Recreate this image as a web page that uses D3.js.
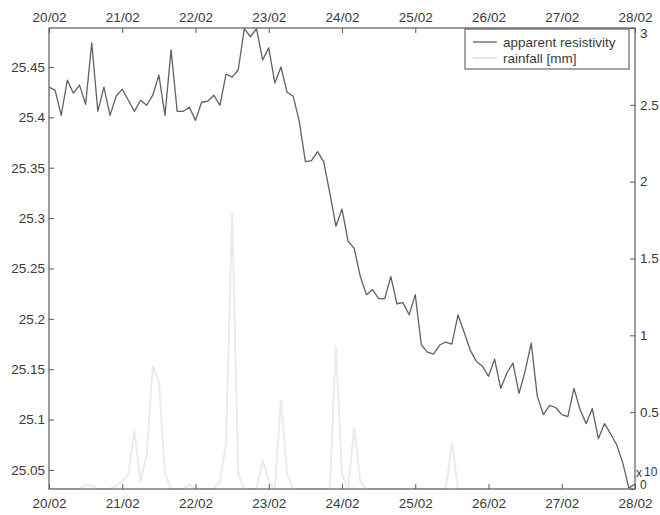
<!DOCTYPE html>
<html>
<head>
<meta charset="utf-8">
<script src="https://cdn.jsdelivr.net/npm/d3@7"></script>
<style>
  html, body { margin: 0; padding: 0; background: #ffffff; }
  svg { display: block; }
  text { font-family: "Liberation Sans", Arial, sans-serif; fill: #3a3a3a; }
</style>
</head>
<body>
<svg id="chart" width="660" height="515"></svg>
<script>
// ---------------- DATA ----------------
const startDate = new Date(2007, 1, 20, 0, 0);   // 20/02, 2-hour sampling
const stepHours = 2;
const dateTicks = ["20/02","21/02","22/02","23/02","24/02","25/02","26/02","27/02","28/02"];
const leftTicks = [25.05, 25.1, 25.15, 25.2, 25.25, 25.3, 25.35, 25.4, 25.45];
const rightTicks = [0, 0.5, 1, 1.5, 2, 2.5, 3];
const seriesNames = ["apparent resistivity", "rainfall [mm]"];

const resistivity = [
  25.430, 25.427, 25.402, 25.437, 25.424, 25.432, 25.413, 25.474, 25.406, 25.430, 25.402, 25.421,
  25.428, 25.417, 25.406, 25.417, 25.412, 25.422, 25.442, 25.402, 25.467, 25.406, 25.406, 25.410,
  25.397, 25.415, 25.416, 25.422, 25.412, 25.443, 25.440, 25.447, 25.488, 25.480, 25.488, 25.457,
  25.469, 25.434, 25.450, 25.425, 25.421, 25.396, 25.356, 25.357, 25.366, 25.356, 25.325, 25.292,
  25.309, 25.277, 25.270, 25.242, 25.224, 25.229, 25.220, 25.220, 25.242, 25.215, 25.216, 25.204,
  25.224, 25.174, 25.167, 25.165, 25.174, 25.177, 25.175, 25.204, 25.187, 25.169, 25.158, 25.153,
  25.143, 25.160, 25.131, 25.146, 25.156, 25.126, 25.148, 25.176, 25.123, 25.105, 25.114, 25.112,
  25.105, 25.103, 25.131, 25.110, 25.096, 25.111, 25.081, 25.096, 25.086, 25.075, 25.057, 25.032,
  25.036
];

const rainfall = [
  0, 0, 0, 0, 0, 0, 0.03, 0.02, 0, 0, 0, 0.02,
  0.05, 0.1, 0.38, 0.05, 0.22, 0.8, 0.7, 0.1, 0, 0, 0, 0.03,
  0, 0, 0, 0, 0.05, 0.3, 1.8, 0.1, 0, 0, 0, 0.19,
  0.05, 0, 0.58, 0.1, 0, 0, 0, 0, 0, 0, 0, 0.93,
  0.1, 0, 0.4, 0.05, 0, 0, 0, 0, 0, 0, 0, 0,
  0, 0, 0, 0, 0, 0, 0.3, 0, 0, 0, 0, 0,
  0, 0, 0, 0, 0, 0, 0, 0, 0, 0, 0, 0,
  0, 0, 0, 0, 0, 0, 0, 0, 0, 0, 0, 0,
  0
];

// ---------------- LAYOUT ----------------
const plot = { left: 49, right: 635, top: 28, bottom: 489 };
const timeAt = i => new Date(startDate.getTime() + i * stepHours * 3600 * 1000);
const tickDates = dateTicks.map((d, k) => new Date(startDate.getTime() + k * 24 * 3600 * 1000));

const x = d3.scaleTime()
  .domain([startDate, tickDates[tickDates.length - 1]])
  .range([plot.left, plot.right]);
const yL = d3.scaleLinear().domain([25.0311, 25.4887]).range([plot.bottom, plot.top]);
const yR = d3.scaleLinear().domain([0, 3]).range([plot.bottom, plot.top]);

const svg = d3.select("#chart");
const fontSize = "13.5px";
const axisColor = "#5a5a5a";

svg.append("defs").append("clipPath").attr("id", "clip")
  .append("rect").attr("x", plot.left).attr("y", plot.top)
  .attr("width", plot.right - plot.left).attr("height", plot.bottom - plot.top);

// rainfall (very light)
const rainLine = d3.line().x((d, i) => x(timeAt(i))).y(d => yR(d));
svg.append("path").datum(rainfall)
  .attr("clip-path", "url(#clip)")
  .attr("d", rainLine)
  .attr("fill", "none").attr("stroke", "#ebebeb").attr("stroke-width", 2);

// resistivity
const resLine = d3.line().x((d, i) => x(timeAt(i))).y(d => yL(d));
svg.append("path").datum(resistivity)
  .attr("clip-path", "url(#clip)")
  .attr("d", resLine)
  .attr("fill", "none").attr("stroke", "#616161").attr("stroke-width", 1.3)
  .attr("stroke-linejoin", "round");

// axes (ticks inward, MATLAB-like)
const fmtDate = (d) => dateTicks[tickDates.findIndex(t => t.getTime() === d.getTime())];
const fmtNum = d3.format("");

function styleAxis(g) {
  g.select(".domain").remove();
  g.selectAll(".tick line").attr("stroke", axisColor);
  g.selectAll(".tick text").style("font-size", fontSize).attr("fill", "#3a3a3a");
}

svg.append("g").attr("transform", `translate(0,${plot.bottom})`)
  .call(d3.axisBottom(x).tickValues(tickDates).tickFormat(fmtDate).tickSizeInner(-5).tickPadding(9))
  .call(styleAxis);

svg.append("g").attr("transform", `translate(0,${plot.top})`)
  .call(d3.axisTop(x).tickValues(tickDates).tickFormat(fmtDate).tickSizeInner(-5).tickPadding(6))
  .call(styleAxis);

svg.append("g").attr("transform", `translate(${plot.left},0)`)
  .call(d3.axisLeft(yL).tickValues(leftTicks).tickFormat(fmtNum).tickSizeInner(-5).tickPadding(4))
  .call(styleAxis);

const rightAxis = svg.append("g").attr("transform", `translate(${plot.right},0)`)
  .call(d3.axisRight(yR).tickValues(rightTicks).tickFormat(fmtNum).tickSizeInner(-5).tickPadding(5))
  .call(styleAxis);
rightAxis.selectAll(".tick text").filter(d => d === 0)
  .attr("dy", "-0.05em").style("font-size", "12px");
rightAxis.selectAll(".tick text").filter(d => d === 3).attr("dy", "0.7em");

// frame
svg.append("rect")
  .attr("x", plot.left).attr("y", plot.top)
  .attr("width", plot.right - plot.left).attr("height", plot.bottom - plot.top)
  .attr("fill", "none").attr("stroke", axisColor).attr("stroke-width", 1.2);

// exponent label near bottom right
svg.append("text").attr("x", plot.right + 1).attr("y", 477)
  .style("font-size", "12px").text("x");
svg.append("text").attr("x", plot.right + 9).attr("y", 476)
  .style("font-size", "12px").text("10");

// legend
const lg = svg.append("g").attr("transform", "translate(465,29)");
lg.append("rect").attr("width", 164).attr("height", 40)
  .attr("fill", "#ffffff").attr("stroke", "#4a4a4a").attr("stroke-width", 1);
const legendColors = ["#616161", "#e2e2e2"];
seriesNames.forEach((name, k) => {
  const yy = 13 + k * 16;
  lg.append("line").attr("x1", 8).attr("x2", 32).attr("y1", yy).attr("y2", yy)
    .attr("stroke", legendColors[k]).attr("stroke-width", k === 0 ? 1.3 : 1.6);
  lg.append("text").attr("x", 38).attr("y", yy).attr("dy", "0.35em")
    .style("font-size", fontSize).text(name);
});
</script>
</body>
</html>
